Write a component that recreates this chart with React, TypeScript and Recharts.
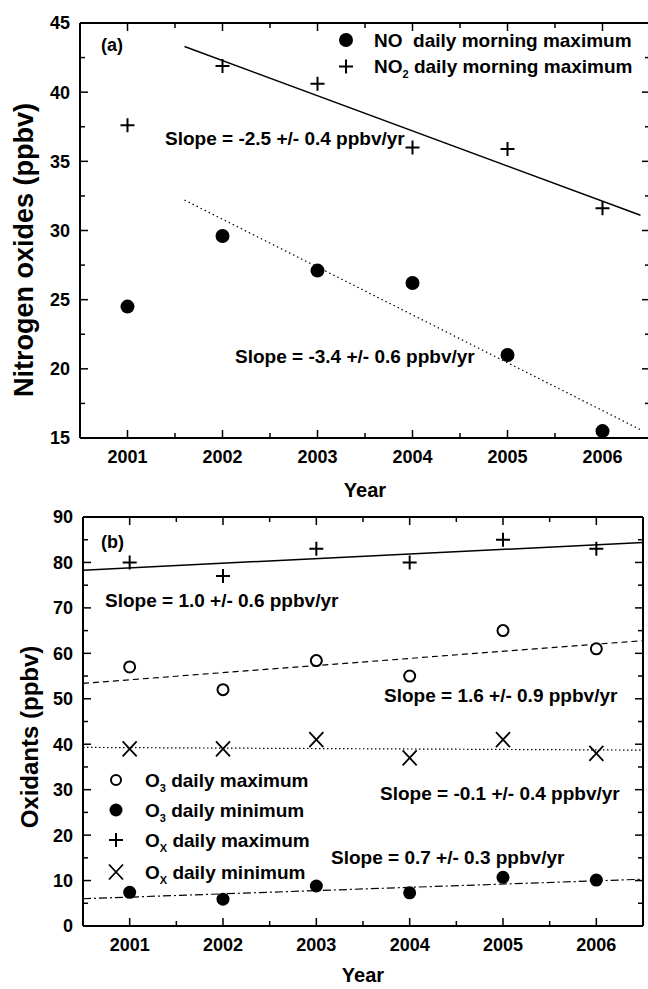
import React from 'react';
import { ScatterChart, Scatter, XAxis, YAxis, Customized } from 'recharts';

// --- data ---
const years = [2001, 2002, 2003, 2004, 2005, 2006];
const yearTicks = [2001, 2002, 2003, 2004, 2005, 2006];
const minorYearTicks = [2001.5, 2002.5, 2003.5, 2004.5, 2005.5];

// panel (a) nitrogen oxides, ppbv
const noValues = [24.5, 29.6, 27.1, 26.2, 21.0, 15.5];
const no2Values = [37.6, 41.9, 40.6, 36.0, 35.9, 31.6];
const fitYearsA = [2001.6, 2006.4];
const noFit = [32.2, 15.6];
const no2Fit = [43.3, 31.1];
const nitroTicks = [15, 20, 25, 30, 35, 40, 45];
const nitroMinorTicks = [17.5, 22.5, 27.5, 32.5, 37.5, 42.5];

// panel (b) oxidants, ppbv
const o3MaxValues = [57, 52, 58.4, 55, 65, 61];
const o3MinValues = [7.4, 5.9, 8.8, 7.3, 10.7, 10.1];
const oxMaxValues = [80, 77, 83, 80, 85, 83];
const oxMinValues = [39, 39, 41, 37, 41, 38];
const fitYearsB = [2000.5, 2006.5];
const oxMaxFit = [78.3, 84.4];
const o3MaxFit = [53.4, 62.8];
const oxMinFit = [39.3, 38.7];
const o3MinFit = [6.0, 10.3];
const oxTicks = [0, 10, 20, 30, 40, 50, 60, 70, 80, 90];
const oxMinorTicks = [5, 15, 25, 35, 45, 55, 65, 75, 85];

const FONT = "'Liberation Sans', Arial, Helvetica, sans-serif";

const pts = (xs: number[], ys: number[]) => xs.map((x, i) => ({ x, y: ys[i] }));
const merge = (a: number[], b: number[]) => [...a, ...b].sort((p, q) => p - q);

// --- marker shapes ---
const filledDot = (r: number) => (p: any) => <ellipse cx={p.cx} cy={p.cy} rx={r} ry={r} fill="#000" />;
const openDot = (p: any) => <circle cx={p.cx} cy={p.cy} r={5.5} fill="#fff" stroke="#000" strokeWidth={2} />;
const plus = (p: any) => (
  <path d={`M${p.cx - 7},${p.cy}h14M${p.cx},${p.cy - 7}v14`} stroke="#000" strokeWidth={2} fill="none" />
);
const cross = (p: any) => (
  <path
    d={`M${p.cx - 7},${p.cy - 7.5}L${p.cx + 7},${p.cy + 7.5}M${p.cx + 7},${p.cy - 7.5}L${p.cx - 7},${p.cy + 7.5}`}
    stroke="#000"
    strokeWidth={1.8}
    fill="none"
  />
);
const noShape = () => <g />;

// --- ticks (inward, with minor ticks) ---
const isMajor = (v: number, majors: number[]) => majors.includes(v);

const bottomTick = (majors: number[]) => (p: any) => {
  const v = p.payload.value;
  const major = isMajor(v, majors);
  return (
    <g>
      <line x1={p.x} x2={p.x} y1={p.y} y2={p.y - (major ? 8 : 5)} stroke="#000" strokeWidth={1.5} />
      {major && (
        <text x={p.x} y={p.y + 25} textAnchor="middle" fontFamily={FONT} fontWeight="bold" fontSize={18} fill="#000">
          {v}
        </text>
      )}
    </g>
  );
};
const topTick = (majors: number[]) => (p: any) => {
  const major = isMajor(p.payload.value, majors);
  return <line x1={p.x} x2={p.x} y1={p.y} y2={p.y + (major ? 8 : 5)} stroke="#000" strokeWidth={1.5} />;
};
const leftTick = (majors: number[]) => (p: any) => {
  const v = p.payload.value;
  const major = isMajor(v, majors);
  return (
    <g>
      <line x1={p.x} x2={p.x + (major ? 8 : 5)} y1={p.y} y2={p.y} stroke="#000" strokeWidth={1.5} />
      {major && (
        <text x={p.x - 10} y={p.y} dy="0.36em" textAnchor="end" fontFamily={FONT} fontWeight="bold" fontSize={18} fill="#000">
          {v}
        </text>
      )}
    </g>
  );
};
const rightTick = (majors: number[]) => (p: any) => {
  const major = isMajor(p.payload.value, majors);
  return <line x1={p.x} x2={p.x - (major ? 8 : 5)} y1={p.y} y2={p.y} stroke="#000" strokeWidth={1.5} />;
};

const axisLine = { stroke: '#000', strokeWidth: 2 };
const txt = { fontFamily: FONT, fontWeight: 'bold' as const, fill: '#000', style: { whiteSpace: 'pre' as const } };

const PanelA = () => (
  <ScatterChart width={652} height={500} margin={{ top: 22, right: 1, bottom: 2, left: 0 }}>
    <XAxis
      xAxisId="b" type="number" dataKey="x" domain={[2000.5, 2006.5]} allowDataOverflow
      ticks={merge(yearTicks, minorYearTicks)} interval={0} height={60}
      tickSize={0} tickMargin={0} tickLine={false} axisLine={axisLine} tick={bottomTick(yearTicks)}
    />
    <XAxis
      xAxisId="t" orientation="top" type="number" dataKey="x" domain={[2000.5, 2006.5]} allowDataOverflow
      ticks={merge(yearTicks, minorYearTicks)} interval={0} height={1}
      tickSize={0} tickMargin={0} tickLine={false} axisLine={axisLine} tick={topTick(yearTicks)}
    />
    <YAxis
      yAxisId="l" type="number" dataKey="y" domain={[15, 45]} allowDataOverflow
      ticks={merge(nitroTicks, nitroMinorTicks)} interval={0} width={80}
      tickSize={0} tickMargin={0} tickLine={false} axisLine={axisLine} tick={leftTick(nitroTicks)}
    />
    <YAxis
      yAxisId="r" orientation="right" type="number" dataKey="y" domain={[15, 45]} allowDataOverflow
      ticks={merge(nitroTicks, nitroMinorTicks)} interval={0} width={1}
      tickSize={0} tickMargin={0} tickLine={false} axisLine={axisLine} tick={rightTick(nitroTicks)}
    />
    <Scatter xAxisId="b" yAxisId="l" data={pts(fitYearsA, no2Fit)} shape={noShape} line={{ stroke: '#000', strokeWidth: 1.5 }} isAnimationActive={false} />
    <Scatter xAxisId="b" yAxisId="l" data={pts(fitYearsA, noFit)} shape={noShape} line={{ stroke: '#000', strokeWidth: 1.2, strokeDasharray: '1.5 3' }} isAnimationActive={false} />
    <Scatter xAxisId="b" yAxisId="l" name="NO" data={pts(years, noValues)} shape={filledDot(7)} isAnimationActive={false} />
    <Scatter xAxisId="b" yAxisId="l" name="NO2" data={pts(years, no2Values)} shape={plus} isAnimationActive={false} />
    <Customized
      component={() => (
        <g>
          <text x={101} y={51} fontSize={18} {...txt}>(a)</text>
          <ellipse cx={346} cy={40} rx={7} ry={7} fill="#000" />
          <text x={374} y={47} fontSize={19} {...txt}>NO  daily morning maximum</text>
          <path d="M339,66.5h14M346,59.5v14" stroke="#000" strokeWidth={2} />
          <text x={374} y={73} fontSize={19} {...txt}>
            NO<tspan dy={5} fontSize={11}>2</tspan><tspan dy={-5}> daily morning maximum</tspan>
          </text>
          <text x={165} y={145} fontSize={19} {...txt}>Slope = -2.5 +/- 0.4 ppbv/yr</text>
          <text x={235} y={363} fontSize={19} {...txt}>Slope = -3.4 +/- 0.6 ppbv/yr</text>
          <text x={365} y={497} fontSize={20} textAnchor="middle" {...txt}>Year</text>
          <text x={33} y={250} fontSize={27} textAnchor="middle" transform="rotate(-90 33 250)" {...txt}>Nitrogen oxides (ppbv)</text>
        </g>
      )}
    />
  </ScatterChart>
);

const PanelB = () => (
  <ScatterChart width={648} height={489} margin={{ top: 16, right: 4, bottom: 3, left: 0 }}>
    <XAxis
      xAxisId="b" type="number" dataKey="x" domain={[2000.5, 2006.5]} allowDataOverflow
      ticks={merge(yearTicks, minorYearTicks)} interval={0} height={60}
      tickSize={0} tickMargin={0} tickLine={false} axisLine={axisLine} tick={bottomTick(yearTicks)}
    />
    <XAxis
      xAxisId="t" orientation="top" type="number" dataKey="x" domain={[2000.5, 2006.5]} allowDataOverflow
      ticks={merge(yearTicks, minorYearTicks)} interval={0} height={1}
      tickSize={0} tickMargin={0} tickLine={false} axisLine={axisLine} tick={topTick(yearTicks)}
    />
    <YAxis
      yAxisId="l" type="number" dataKey="y" domain={[0, 90]} allowDataOverflow
      ticks={merge(oxTicks, oxMinorTicks)} interval={0} width={83}
      tickSize={0} tickMargin={0} tickLine={false} axisLine={axisLine} tick={leftTick(oxTicks)}
    />
    <YAxis
      yAxisId="r" orientation="right" type="number" dataKey="y" domain={[0, 90]} allowDataOverflow
      ticks={merge(oxTicks, oxMinorTicks)} interval={0} width={1}
      tickSize={0} tickMargin={0} tickLine={false} axisLine={axisLine} tick={rightTick(oxTicks)}
    />
    <Scatter xAxisId="b" yAxisId="l" data={pts(fitYearsB, oxMaxFit)} shape={noShape} line={{ stroke: '#000', strokeWidth: 1.5 }} isAnimationActive={false} />
    <Scatter xAxisId="b" yAxisId="l" data={pts(fitYearsB, o3MaxFit)} shape={noShape} line={{ stroke: '#000', strokeWidth: 1.2, strokeDasharray: '6 4' }} isAnimationActive={false} />
    <Scatter xAxisId="b" yAxisId="l" data={pts(fitYearsB, oxMinFit)} shape={noShape} line={{ stroke: '#000', strokeWidth: 1.2, strokeDasharray: '1.5 2.5' }} isAnimationActive={false} />
    <Scatter xAxisId="b" yAxisId="l" data={pts(fitYearsB, o3MinFit)} shape={noShape} line={{ stroke: '#000', strokeWidth: 1.2, strokeDasharray: '8 3 2 3' }} isAnimationActive={false} />
    <Scatter xAxisId="b" yAxisId="l" name="O3 max" data={pts(years, o3MaxValues)} shape={openDot} isAnimationActive={false} />
    <Scatter xAxisId="b" yAxisId="l" name="O3 min" data={pts(years, o3MinValues)} shape={filledDot(6.5)} isAnimationActive={false} />
    <Scatter xAxisId="b" yAxisId="l" name="Ox max" data={pts(years, oxMaxValues)} shape={plus} isAnimationActive={false} />
    <Scatter xAxisId="b" yAxisId="l" name="Ox min" data={pts(years, oxMinValues)} shape={cross} isAnimationActive={false} />
    <Customized
      component={() => (
        <g>
          <text x={101} y={48} fontSize={18} {...txt}>(b)</text>
          <text x={105} y={107} fontSize={19} {...txt}>Slope = 1.0 +/- 0.6 ppbv/yr</text>
          <text x={384} y={202} fontSize={19} {...txt}>Slope = 1.6 +/- 0.9 ppbv/yr</text>
          <text x={380} y={300} fontSize={19} {...txt}>Slope = -0.1 +/- 0.4 ppbv/yr</text>
          <text x={331} y={364} fontSize={19} {...txt}>Slope = 0.7 +/- 0.3 ppbv/yr</text>

          <circle cx={116} cy={280} r={5} fill="#fff" stroke="#000" strokeWidth={2} />
          <text x={145} y={287} fontSize={19} {...txt}>O<tspan dy={5} fontSize={11}>3</tspan><tspan dy={-5}> daily maximum</tspan></text>
          <ellipse cx={116} cy={310} rx={6.5} ry={6.5} fill="#000" />
          <text x={145} y={317} fontSize={19} {...txt}>O<tspan dy={5} fontSize={11}>3</tspan><tspan dy={-5}> daily minimum</tspan></text>
          <path d="M109,340h14M116,333v14" stroke="#000" strokeWidth={2} />
          <text x={145} y={347} fontSize={19} {...txt}>O<tspan dy={5} fontSize={11}>X</tspan><tspan dy={-5}> daily maximum</tspan></text>
          <path d="M109,364.5L123,379.5M123,364.5L109,379.5" stroke="#000" strokeWidth={1.8} />
          <text x={145} y={379} fontSize={19} {...txt}>O<tspan dy={5} fontSize={11}>X</tspan><tspan dy={-5}> daily minimum</tspan></text>

          <text x={363} y={482} fontSize={20} textAnchor="middle" {...txt}>Year</text>
          <text x={38} y={237} fontSize={24} textAnchor="middle" transform="rotate(-90 38 237)" {...txt}>Oxidants (ppbv)</text>
        </g>
      )}
    />
  </ScatterChart>
);

export default function App() {
  return (
    <div style={{ position: 'absolute', left: 0, top: 0, width: 648, height: 989, overflow: 'hidden', background: '#fff' }}>
      <div style={{ position: 'absolute', left: 0, top: 0 }}>
        <PanelA />
      </div>
      <div style={{ position: 'absolute', left: 0, top: 500 }}>
        <PanelB />
      </div>
    </div>
  );
}
